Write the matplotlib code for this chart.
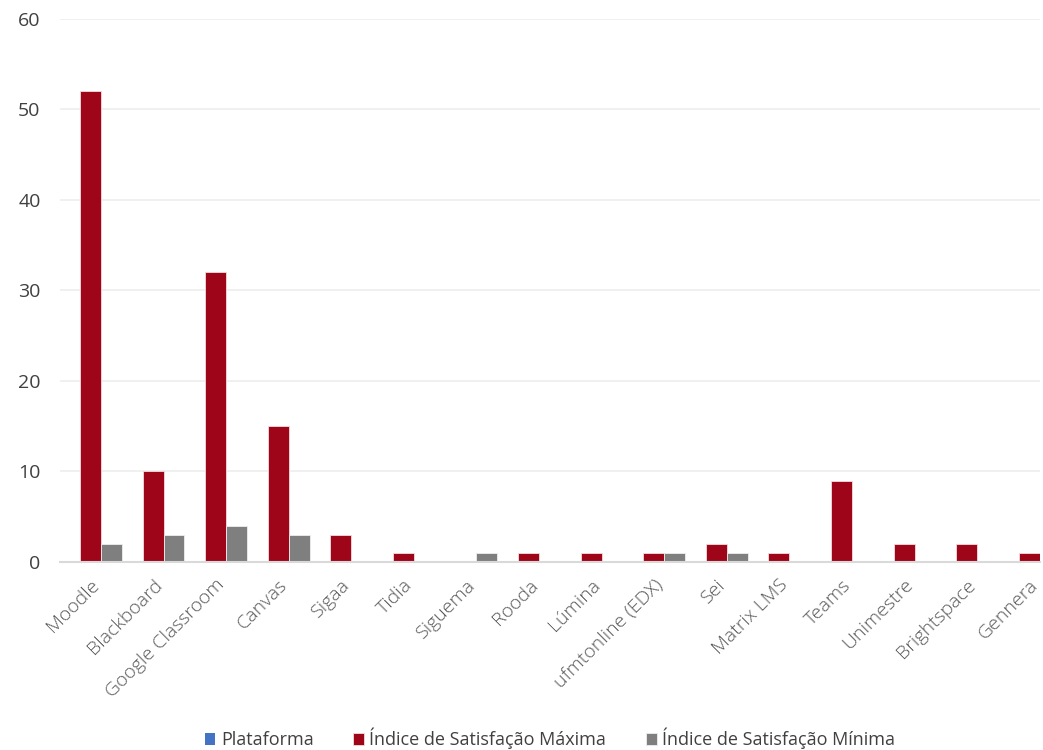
import numpy as np
import matplotlib.pyplot as plt

plt.rcParams['font.family'] = ['Open Sans', 'DejaVu Sans']

platforms = ["Moodle", "Blackboard", "Google Classroom", "Canvas", "Sigaa", "Tidia",
             "Siguema", "Rooda", "Lúmina", "ufmtonline (EDX)", "Sei", "Matrix LMS",
             "Teams", "Unimestre", "Brightspace", "Gennera"]
plataforma = [0] * len(platforms)
sat_max = [52, 10, 32, 15, 3, 1, 0, 1, 1, 1, 2, 1, 9, 2, 2, 1]
sat_min = [2, 3, 4, 3, 0, 0, 1, 0, 0, 1, 1, 0, 0, 0, 0, 0]

fig = plt.figure(figsize=(10.43, 7.5), dpi=100)
ax = fig.add_axes([0.0575, 0.2507, 0.9395, 0.724])

x = np.arange(len(platforms))
w = 0.335
ax.bar(x - w, plataforma, w, color='#4472c4', label='Plataforma')
ax.bar(x, sat_max, w, color='#9e0519', edgecolor='#f2dede', linewidth=0.6,
       label='Índice de Satisfação Máxima')
ax.bar(x + w, sat_min, w, color='#7f7f7f', edgecolor='#eeeeee', linewidth=0.6,
       label='Índice de Satisfação Mínima')

ax.set_xlim(-0.487, 15.17)
ax.set_ylim(0, 60)
ax.set_yticks(range(0, 61, 10))
ax.grid(axis='y', color='#eeeeee', linewidth=1.2)
ax.set_axisbelow(True)
for s in ['top', 'right', 'left']:
    ax.spines[s].set_visible(False)
ax.spines['bottom'].set_color('#d9d9d9')
ax.spines['bottom'].set_linewidth(1.5)
ax.tick_params(length=0)
ax.tick_params(axis='y', labelsize=14, labelcolor='#404040', pad=14)
ax.set_xticks(x)
ax.set_xticklabels(platforms, rotation=45, ha='right', rotation_mode='anchor',
                   fontsize=14, color='#595959', fontweight='light')
ax.tick_params(axis='x', pad=10)

leg = ax.legend(loc='lower center', bbox_to_anchor=(0.5, -0.375), ncol=3, frameon=False,
                fontsize=13, handlelength=0.6, handleheight=0.6, handletextpad=0.3,
                columnspacing=2.2)
for t in leg.get_texts():
    t.set_color('#404040')

plt.savefig("out.png")
